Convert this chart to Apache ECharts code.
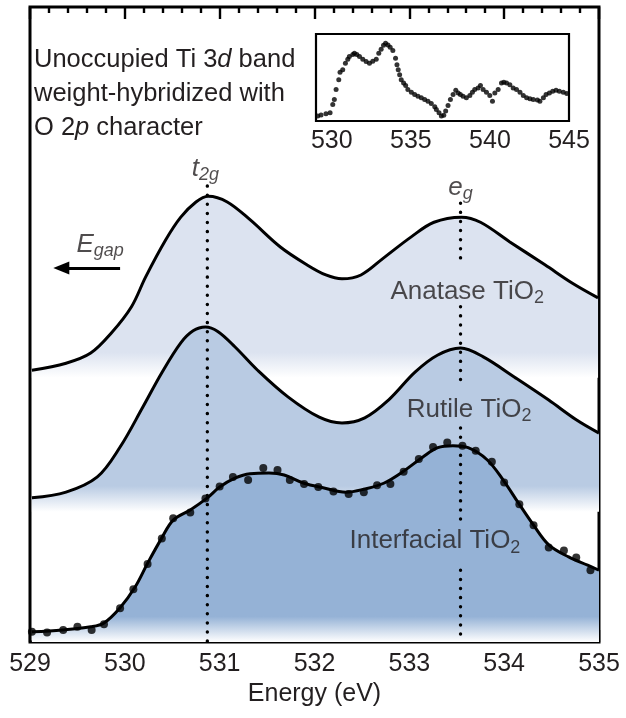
<!DOCTYPE html>
<html><head><meta charset="utf-8">
<script src="https://cdn.jsdelivr.net/npm/echarts@6/dist/echarts.min.js"></script>
<style>html,body{margin:0;padding:0;background:#fff}#c{width:626px;height:718px}</style>
</head><body><div id="c"></div>
<script>
// ---- data (energy in eV, intensity in arbitrary offset units) ----
const anataseE = [529.02,529.38,529.64,529.86,530.07,530.22,530.43,530.59,530.75,530.88,531.08,531.32,531.64,531.92,532.12,532.29,532.49,532.73,533.02,533.26,533.55,533.75,534.06,534.43,534.72,534.99];
const anataseI = [42.8,43.9,45.5,48.7,52.8,57.5,63.3,66.9,69.3,70.2,69.3,66.5,62.2,59.4,57.8,57.2,57.8,60.5,63.8,66.1,66.9,66.1,63.0,59.4,56.5,54.2];

const rutileE = [529.02,529.38,529.71,529.95,530.19,530.39,530.59,530.72,530.85,530.98,531.16,531.40,531.72,532.05,532.29,532.53,532.78,533.06,533.30,533.54,533.78,534.11,534.47,534.76,535.00];
const rutileI = [22.7,23.6,26.0,30.7,37.0,42.4,47.1,49.0,49.6,48.9,46.5,42.8,38.6,35.4,34.5,35.3,38.1,42.5,45.2,46.3,44.9,41.7,38.1,35.0,32.9];

const interfFitE = [529.02,529.34,529.64,529.78,529.95,530.11,530.24,530.39,530.51,530.69,530.87,531.00,531.16,531.32,531.52,531.68,531.89,532.09,532.33,532.53,532.73,532.93,533.14,533.30,533.46,533.62,533.82,533.99,534.15,534.31,534.47,534.68,534.88,535.00];
const interfFitI = [1.6,1.9,2.4,3.0,5.4,8.7,12.4,16.4,19.2,20.8,22.7,24.4,25.8,26.5,26.6,26.3,25.0,24.3,23.6,24.1,25.0,26.8,29.1,30.6,30.9,30.6,28.7,25.5,21.9,18.4,15.3,13.4,12.1,11.3];

const interfPtE = [529.02,529.18,529.35,529.50,529.65,529.78,529.95,530.09,530.24,530.39,530.51,530.69,530.85,531.00,531.14,531.30,531.46,531.61,531.74,531.89,532.04,532.20,532.36,532.52,532.66,532.80,532.94,533.10,533.25,533.40,533.56,533.70,533.87,534.00,534.16,534.31,534.47,534.63,534.76,534.91];
const interfPtI = [1.6,1.5,1.9,2.4,1.9,2.8,5.3,8.3,12.3,16.3,19.5,20.4,22.6,24.5,26.0,25.5,27.4,27.1,25.5,24.9,24.4,23.7,23.3,23.6,24.7,24.9,26.8,28.8,30.7,31.4,30.9,30.1,28.4,25.1,21.7,18.4,14.9,14.4,13.3,11.3];

const insetE = [529.11,529.32,529.63,529.89,530.06,530.16,530.27,530.44,530.52,530.69,530.86,531.01,531.11,531.33,531.43,531.58,531.75,531.96,532.17,532.38,532.59,532.81,532.97,533.12,533.27,533.40,533.55,533.69,533.86,534.03,534.12,534.20,534.29,534.39,534.54,534.67,534.81,535.03,535.24,535.45,535.66,535.87,536.08,536.29,536.51,536.61,536.78,536.93,537.08,537.20,537.35,537.50,537.67,537.84,537.99,538.13,538.30,538.51,538.73,538.89,539.04,539.25,539.40,539.57,539.78,539.99,540.16,540.31,540.52,540.73,540.88,541.05,541.26,541.47,541.68,541.90,542.11,542.32,542.53,542.74,543.00,543.16,543.38,543.55,543.76,543.97,544.18,544.39,544.64,544.86];
const insetI = [5.7,6.8,8.4,9.5,19.0,24.7,36.1,47.5,55.9,58.9,66.5,71.1,74.1,76.4,77.9,76.4,74.1,71.1,68.4,66.5,68.8,71.1,77.9,82.5,87.1,89.4,87.5,84.8,81.0,72.2,64.6,58.9,53.2,47.5,43.7,40.7,36.1,33.1,30.4,28.5,26.6,24.7,22.8,20.2,16.3,13.3,9.5,5.7,6.5,11.4,17.9,24.7,30.4,35.4,32.3,30.4,28.5,26.6,29.3,33.1,36.1,38.0,40.7,36.1,33.1,29.3,22.8,32.3,36.1,43.7,44.5,43.7,41.8,38.0,36.1,33.1,29.3,26.6,25.5,24.7,24.0,22.8,26.6,30.4,32.3,34.2,35.4,34.2,33.1,31.6];

const mainTicks = [529,530,531,532,533,534,535];
const insetTicks = [530,535,540,545];

// peak markers (t2g, eg) and the dotted guide segments [E, from, to]
const t2gE = 530.87, egE = 533.54;
const guideSegs = [[t2gE,71.8,0],[egE,69.1,59.1],[egE,52.8,40.2],[egE,33.7,18.0],[egE,11.3,0]];

// baselines of the stacked spectra
const anataseBase = 41.6, rutileBase = 20.5, interfBase = 0;

// ---- chart ----
const FONT = '"Liberation Sans", Arial, Helvetica, sans-serif';
const TXT = '#231f20';
const zip = (a,b) => a.map((v,i)=>[v,b[i]]);

function fadeFill(col, fadeStart){
  return new echarts.graphic.LinearGradient(0,0,0,1,[
    {offset:0,color:col},{offset:fadeStart,color:col},{offset:1,color:'rgba(255,255,255,1)'}]);
}

const sub = {fontSize:18, fontFamily:FONT, color:TXT, padding:[13,0,0,0]};
const big = {fontSize:26, fontFamily:FONT, color:TXT};
const itBig = {fontSize:26, fontFamily:FONT, color:TXT, fontStyle:'italic'};
const itSub = {fontSize:18, fontFamily:FONT, color:TXT, fontStyle:'italic', padding:[13,0,0,0]};
function textPoint(x,y,fmt,rich,align){
  return {value:[x,y], label:{show:true, position:'inside', formatter:fmt, rich:rich, align:align||'center'}};
}

const guideSeries = guideSegs.map(s => ({
  type:'line', xAxisIndex:0, yAxisIndex:0, data:[[s[0],s[1]],[s[0],s[2]]],
  symbol:'none', silent:true, z:20,
  lineStyle:{color:'#000', width:3.4, type:[0.1,9], cap:'round'}
}));

const option = {
  animation:false,
  backgroundColor:'#fff',
  title:{
    left:29, top:38,
    text:'{n|Unoccupied Ti 3}{i|d}{n| band}\n{n|weight-hybridized with}\n{n|O 2}{i|p}{n| character}',
    textStyle:{rich:{
      n:{fontSize:25.5, fontFamily:FONT, color:TXT, fontWeight:'normal', lineHeight:34},
      i:{fontSize:25.5, fontFamily:FONT, color:TXT, fontWeight:'normal', fontStyle:'italic', lineHeight:34}
    }}
  },
  grid:[
    {left:30, right:27, top:7, bottom:76, show:true, borderColor:'#000', borderWidth:3, backgroundColor:'transparent'},
    {left:316, right:57, top:34, bottom:597, show:true, borderColor:'#000', borderWidth:2.2, backgroundColor:'#fff', z:30}
  ],
  xAxis:[
    {type:'value', gridIndex:0, min:529, max:535, interval:1, position:'bottom',
     axisLine:{show:false}, splitLine:{show:false},
     axisTick:{inside:true, length:12, lineStyle:{color:'#000', width:2.4}},
     minorTick:{show:true, splitNumber:5, length:6, lineStyle:{color:'#000', width:2.4}},
     axisLabel:{fontSize:25, fontFamily:FONT, color:TXT, margin:10, customValues:mainTicks},
     name:'Energy (eV)', nameLocation:'middle', nameGap:40,
     nameTextStyle:{fontSize:25, fontFamily:FONT, color:TXT}},
    {type:'value', gridIndex:0, min:529, max:535, interval:1, position:'top',
     axisLine:{show:false}, splitLine:{show:false}, axisLabel:{show:false},
     axisTick:{inside:true, length:12, lineStyle:{color:'#000', width:2.4}},
     minorTick:{show:true, splitNumber:5, length:6, lineStyle:{color:'#000', width:2.4}}},
    {type:'value', gridIndex:1, min:529, max:545, interval:1, position:'bottom',
     axisLine:{show:false}, splitLine:{show:false},
     axisTick:{inside:true, length:4, lineStyle:{color:'#000', width:2}},
     axisLabel:{fontSize:25, fontFamily:FONT, color:TXT, margin:8, customValues:insetTicks}},
    {type:'value', gridIndex:1, min:529, max:545, interval:1, position:'top',
     axisLine:{show:false}, splitLine:{show:false}, axisLabel:{show:false},
     axisTick:{inside:true, length:4, lineStyle:{color:'#000', width:2}}}
  ],
  yAxis:[
    {type:'value', gridIndex:0, min:0, max:100, show:false},
    {type:'value', gridIndex:1, min:0, max:100, show:false}
  ],
  series:[
    {type:'line', name:'Anatase TiO2', xAxisIndex:0, yAxisIndex:0, data:zip(anataseE,anataseI),
     smooth:0.35, symbol:'none', z:2, lineStyle:{color:'#000', width:3},
     areaStyle:{origin:anataseBase, color:fadeFill('#dce3f0',0.86), opacity:1}},
    {type:'line', name:'Rutile TiO2', xAxisIndex:0, yAxisIndex:0, data:zip(rutileE,rutileI),
     smooth:0.35, symbol:'none', z:3, lineStyle:{color:'#000', width:3},
     areaStyle:{origin:rutileBase, color:fadeFill('#b9cbe3',0.86), opacity:1}},
    {type:'line', name:'Interfacial TiO2 fit', xAxisIndex:0, yAxisIndex:0, data:zip(interfFitE,interfFitI),
     smooth:0.35, symbol:'none', z:4, lineStyle:{color:'#000', width:3},
     areaStyle:{origin:interfBase, color:fadeFill('#95b2d6',0.87), opacity:1}},
    {type:'scatter', name:'Interfacial TiO2 data', xAxisIndex:0, yAxisIndex:0, data:zip(interfPtE,interfPtI),
     symbolSize:8, itemStyle:{color:'#000'}, z:5},
    ...guideSeries,
    {type:'line', name:'arrow', xAxisIndex:0, yAxisIndex:0, data:[], z:20,
     markLine:{silent:true, symbol:['none','triangle'], symbolSize:[13,16], animation:false,
       label:{show:false}, lineStyle:{color:'#000', width:3.2, type:'solid'},
       data:[[{coord:[529.95,58.9]},{coord:[529.33,58.9]}]]}},
    {type:'scatter', name:'labels', xAxisIndex:0, yAxisIndex:0, symbolSize:0, z:25, silent:true,
     data:[
       textPoint(530.85,74.6,'{t|t}{s|2g}',{t:itBig,s:itSub}),
       textPoint(533.54,71.6,'{t|e}{s|g}',{t:itBig,s:itSub}),
       textPoint(529.74,62.6,'{t|E}{s|gap}',{t:itBig,s:itSub}),
       textPoint(533.61,55.2,'{t|Anatase TiO}{s|2}',{t:big,s:sub}),
       textPoint(533.63,36.6,'{t|Rutile TiO}{s|2}',{t:big,s:sub}),
       textPoint(533.27,15.9,'{t|Interfacial TiO}{s|2}',{t:big,s:sub})
     ]},
    {type:'scatter', name:'inset', xAxisIndex:2, yAxisIndex:1, data:zip(insetE,insetI),
     symbolSize:5, itemStyle:{color:'#000'}, z:31}
  ]
};
const chart = echarts.init(document.getElementById('c'), null, {renderer:'canvas'});
chart.setOption(option);
</script></body></html>
